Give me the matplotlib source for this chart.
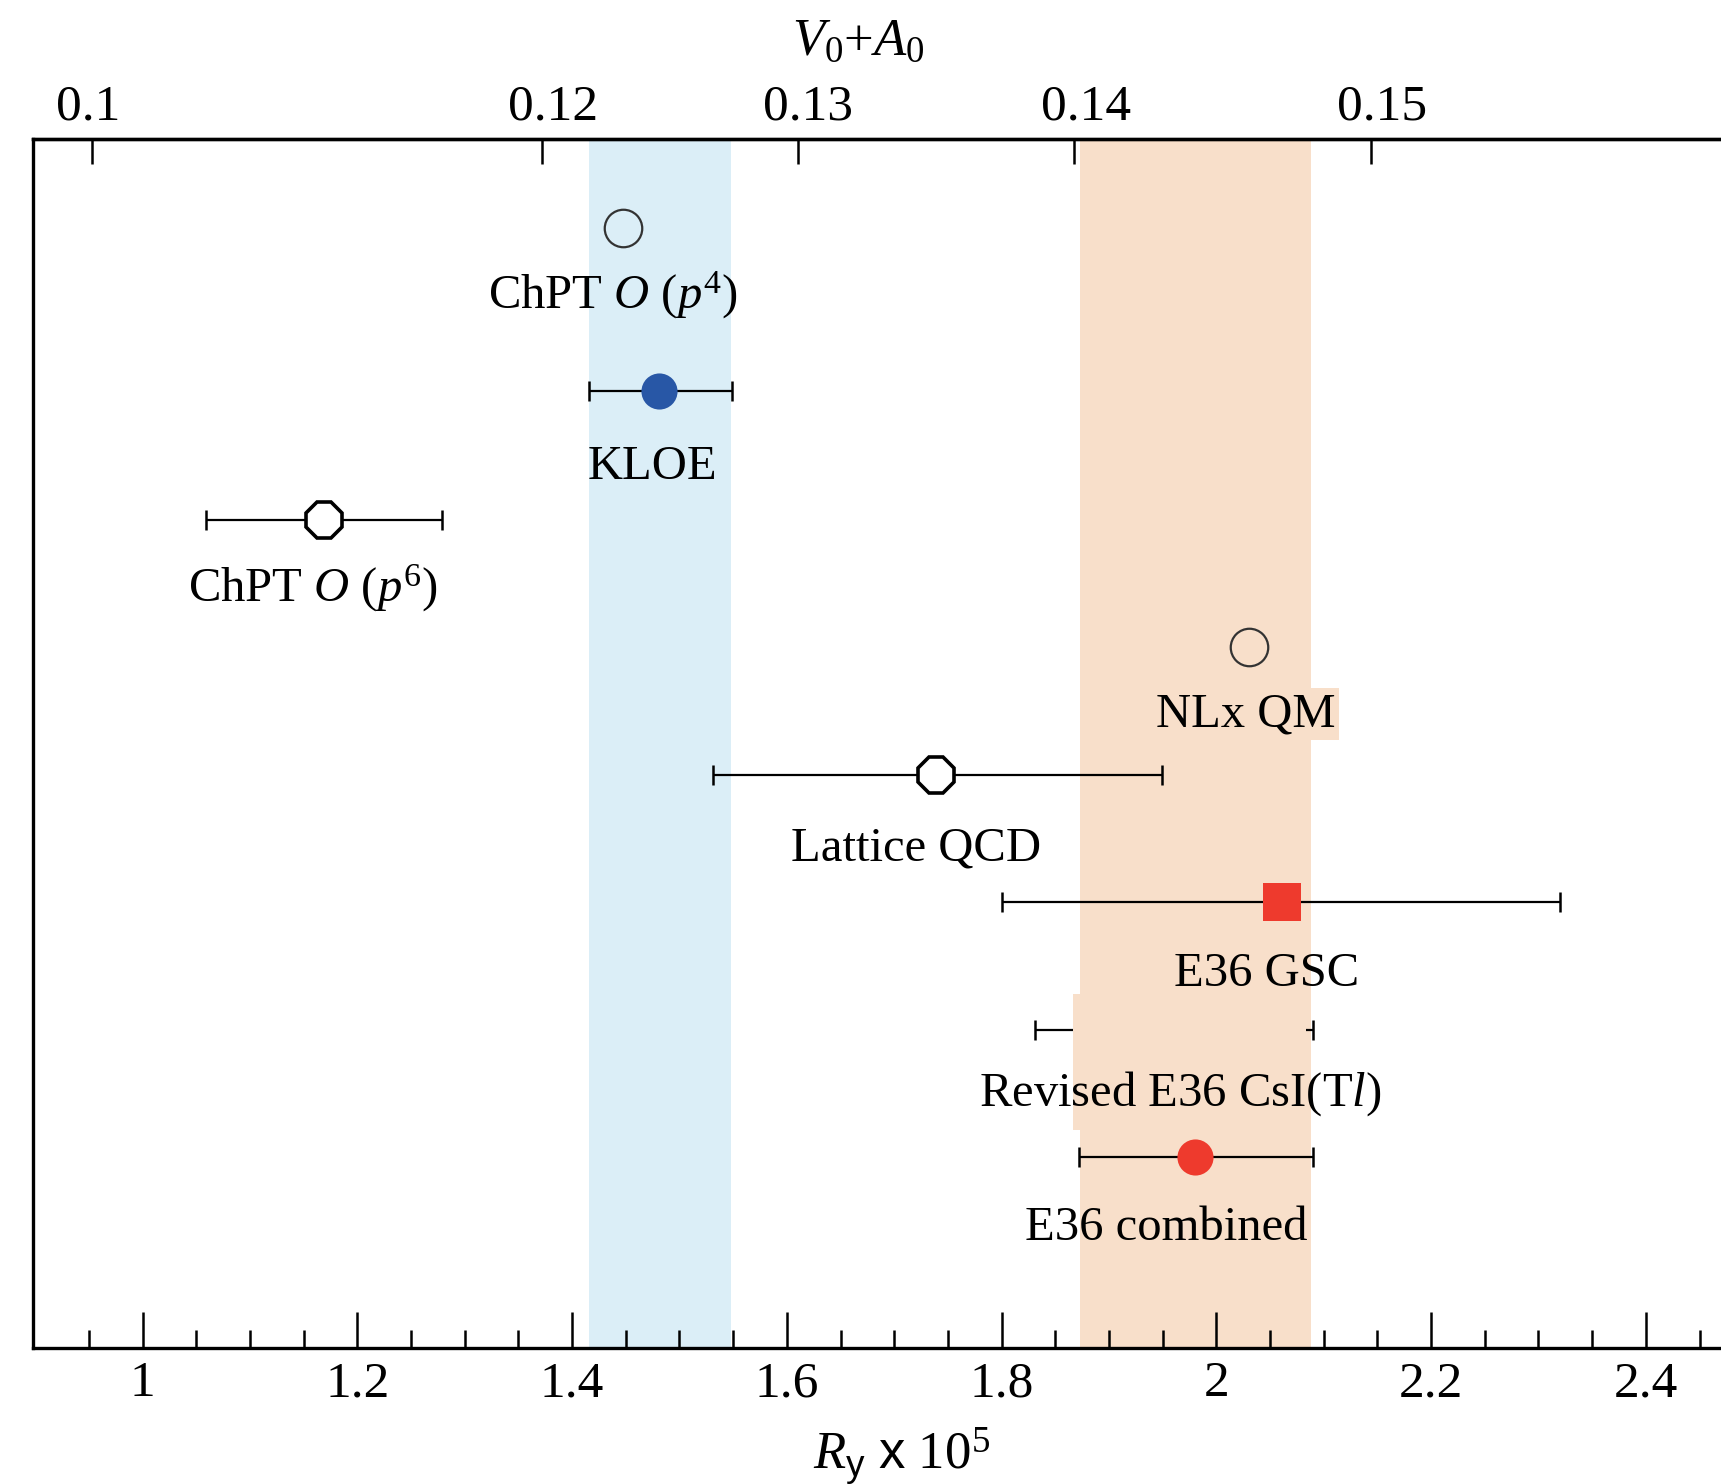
import numpy as np
import matplotlib
matplotlib.use("Agg")
import matplotlib.pyplot as plt
from matplotlib.ticker import MultipleLocator, FuncFormatter, FixedLocator
from matplotlib.patches import Rectangle
from matplotlib.transforms import offset_copy

plt.rcParams['font.family'] = ['Liberation Serif', 'DejaVu Serif']
plt.rcParams['mathtext.fontset'] = 'custom'
plt.rcParams['mathtext.rm'] = 'Liberation Serif'
plt.rcParams['mathtext.it'] = 'Liberation Serif:italic'
plt.rcParams['mathtext.sf'] = 'Liberation Sans'

# ---- data ----
names = [r'ChPT $\mathit{O}$ ($\mathit{p}^{4}$)', 'KLOE', r'ChPT $\mathit{O}$ ($\mathit{p}^{6}$)',
         'NLx QM', 'Lattice QCD', 'E36 GSC', r'Revised E36 CsI(T$\mathit{l}$)', 'E36 combined']
values = [1.447, 1.481, 1.169, 2.030, 1.739, 2.061, 1.960, 1.980]
err_lo = [np.nan, 1.416, 1.059, np.nan, 1.531, 1.800, 1.831, 1.872]
err_hi = [np.nan, 1.549, 1.279, np.nan, 1.949, 2.320, 2.090, 2.090]
kloe_band = (1.416, 1.548)
e36_band = (1.873, 2.088)
top_ticks = [0.10, 0.12, 0.13, 0.14, 0.15]
top_labels = ['0.1', '0.12', '0.13', '0.14', '0.15']
K = 95.3  # R_y*1e5 = K * (V0+A0)^2

# ---- layout ----
rows = [0.70, 1.98, 2.99, 3.99, 4.99, 5.99, 6.99, 7.99]
label_x = [1.438, 1.475, 1.159, 2.027, 1.720, 2.047, 1.966, 1.953]
label_dy = [0.63, 0.69, 0.64, 0.62, 0.67, 0.66, 0.60, 0.65]
top_label_shift = [-3, 8, 7, 8, 8]  # points
styles = [
    dict(marker='o', ms=27, mfc='none', mec='#333333', mew=1.6),
    dict(marker='o', ms=26, mfc='#2857a6', mec='#2857a6', mew=0),
    dict(marker='8', ms=28, mfc='white', mec='black', mew=2.6),
    dict(marker='o', ms=27, mfc='none', mec='#333333', mew=1.6),
    dict(marker='8', ms=28, mfc='white', mec='black', mew=2.6),
    dict(marker='s', ms=27, mfc='#ee3a2d', mec='#ee3a2d', mew=0),
    None,
    dict(marker='o', ms=26, mfc='#ee3a2d', mec='#ee3a2d', mew=0),
]

fig = plt.figure(figsize=(17.21, 14.84), dpi=100)
ax = fig.add_axes([0.0192, 0.0916, 0.9808, 0.8147])
ax.set_xlim(0.898, 2.470)
ax.set_ylim(9.49, 0)

band_blue = '#dbeef7'
band_orange = '#f8dfca'
ax.axvspan(*kloe_band, color=band_blue, zorder=0, lw=0)
ax.axvspan(*e36_band, color=band_orange, zorder=0, lw=0)

for i in range(len(values)):
    if not np.isnan(err_lo[i]):
        ax.errorbar([values[i]], [rows[i]],
                    xerr=[[values[i] - err_lo[i]], [err_hi[i] - values[i]]],
                    fmt='none', ecolor='black', elinewidth=1.6, capsize=7, capthick=1.8, zorder=2)
    if styles[i] is not None:
        st = styles[i]
        ax.plot([values[i]], [rows[i]], ls='none', zorder=4, **st)

# patch covering revised CsI central region (as in reference)
ax.add_patch(Rectangle((1.8666, 6.71), 2.0832 - 1.8666, 1.07, facecolor=band_orange,
                       edgecolor='none', zorder=3))

for i, nm in enumerate(names):
    kw = {}
    if nm == 'NLx QM':
        kw['bbox'] = dict(boxstyle='square,pad=0.08', fc=band_orange, ec='none')
    ax.text(label_x[i], rows[i] + label_dy[i], nm, ha='center', va='baseline',
            fontsize=35, color='black', zorder=5, **kw)

# spines / ticks
for s in ['left', 'top', 'bottom']:
    ax.spines[s].set_linewidth(2.4)
ax.spines['right'].set_visible(False)
ax.yaxis.set_visible(False)
ax.xaxis.set_major_locator(MultipleLocator(0.2))
ax.xaxis.set_minor_locator(FixedLocator(np.arange(0.95, 2.47, 0.05)))
ax.xaxis.set_major_formatter(FuncFormatter(lambda v, p: '%g' % round(v, 2)))
ax.tick_params(axis='x', which='major', direction='in', length=26, width=1.8,
               labelsize=37, pad=9, top=False)
ax.tick_params(axis='x', which='minor', direction='in', length=13, width=1.8, top=False)

def fwd(r):
    return np.sqrt(np.clip(np.asarray(r, dtype=float), 1e-9, None) / K)

def inv(v):
    return K * np.asarray(v, dtype=float) ** 2

sec = ax.secondary_xaxis('top', functions=(fwd, inv))
sec.xaxis.set_major_locator(FixedLocator(top_ticks))
sec.xaxis.set_minor_locator(FixedLocator([]))
sec.tick_params(axis='x', which='major', direction='in', length=18, width=1.8,
                labelsize=37, pad=2, labeltop=False)
sec.spines['top'].set_linewidth(2.4)

# top tick labels (drawn as text so their small offset can match the reference)
xtrans = ax.get_xaxis_transform()
for v, lab, sh in zip(top_ticks, top_labels, top_label_shift):
    tr = offset_copy(xtrans, fig=fig, x=sh, y=6, units='points')
    ax.text(float(inv(v)), 1.0, lab, transform=tr, ha='center', va='bottom',
            fontsize=37, clip_on=False)

fig.text(858 / 1721, 1 - 42 / 1484, r'$\mathit{V}_{0}$+$\mathit{A}_{0}$', ha='center', va='center',
         fontsize=38)
fig.text(902 / 1721, 1 - 1456 / 1484, r'$\mathit{R}_{\mathsf{y}}$ $\mathsf{x}$ 10$^{5}$',
         ha='center', va='center', fontsize=38)

fig.savefig('out.png', dpi=100)
